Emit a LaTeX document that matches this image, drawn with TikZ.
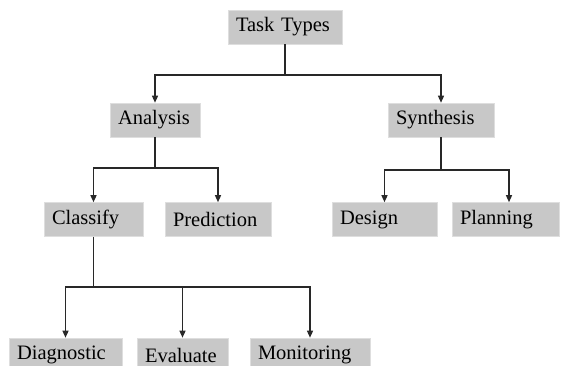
\documentclass[tikz,border=0pt]{standalone}
\usepackage{fontspec}
\setmainfont{Liberation Serif}
\usepackage{tikz}
\usetikzlibrary{
    arrows.meta,
    positioning
}
\usepackage{xcolor}
\definecolor{boxgray}{RGB}{200,200,200}
\definecolor{linegray}{RGB}{40,40,40}
\tikzstyle{task} = [
    rectangle,
    fill=boxgray,
    draw=boxgray!60,
    line width=0.6pt,
    inner xsep=8pt,
    inner ysep=0pt,
    minimum height=34pt,
    align=left,
    font=\fontsize{20.5}{24}\selectfont
]
\tikzstyle{link} = [
    -{Triangle[length=7pt,width=6pt]},
    line width=1.3pt,
    draw=linegray
]

\begin{document}
\begin{tikzpicture}[x=1pt, y=-1pt]
        \clip (0,0) rectangle (564,365);

        % Root
        \node[task, text width=98pt] (types) at (285, 27) {Task Types};

        % Second level
        \node[task, text width=74pt] (analysis) at (155, 120) {Analysis};
        \node[task, text width=90pt] (synthesis) at (441, 120) {Synthesis};

        % Third level
        \node[task, text width=83pt] (classify) at (93.5, 219.5) {Classify};
        \node[task, text width=90pt] (prediction) at (218, 219.5) {Prediction};
        \node[task, text width=89pt] (design) at (384.5, 219.5) {Design};
        \node[task, text width=91pt] (planning) at (505.5, 219.5) {Planning};

        % Fourth level - cut by the page
        \node[task, text width=97pt] (diagnostic) at (65.5, 355) {Diagnostic};
        \node[task, text width=75pt] (evaluate) at (182.5, 355) {Evaluate};
        \node[task, text width=104pt] (monitoring) at (310, 355) {Monitoring};

        % Arrows
        \draw[link] (types) -- ++(0,48) -| (analysis);
        \draw[link] (types) -- ++(0,48) -| (synthesis);
        \draw[link] (analysis) -- ++(0,48) -| (classify);
        \draw[link] (analysis) -- ++(0,48) -| (prediction);
        \draw[link] (synthesis) -- ++(0,50) -| (design);
        \draw[link] (synthesis) -- ++(0,50) -| ([xshift=3.5pt]planning.north);
        \draw[link] (classify) -- ++(0,67.5) -| (diagnostic);
        \draw[link] (classify) -- ++(0,67.5) -| (evaluate);
        \draw[link] (classify) -- ++(0,67.5) -| (monitoring);
    \end{tikzpicture}
\end{document}
